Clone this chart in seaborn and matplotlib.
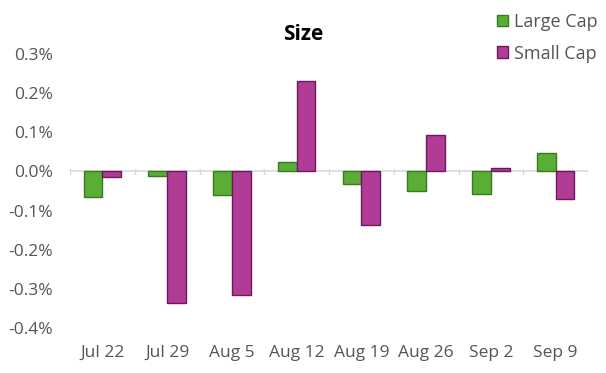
import matplotlib
matplotlib.use("Agg")
import matplotlib.pyplot as plt
import seaborn as sns
import pandas as pd
from matplotlib.ticker import FuncFormatter, FixedLocator
from matplotlib.patches import Patch

dates = ["Jul 22", "Jul 29", "Aug 5", "Aug 12", "Aug 19", "Aug 26", "Sep 2", "Sep 9"]
large_cap = [-0.065, -0.011, -0.060, 0.025, -0.031, -0.049, -0.057, 0.046]
small_cap = [-0.014, -0.336, -0.316, 0.232, -0.136, 0.092, 0.010, -0.070]
series = ["Large Cap", "Small Cap"]
yticks = [-0.4, -0.3, -0.2, -0.1, 0.0, 0.1, 0.2, 0.3]

df = pd.DataFrame({
    "date": dates * 2,
    "value": large_cap + small_cap,
    "series": [series[0]] * len(dates) + [series[1]] * len(dates),
})

sns.set_style("white")
plt.rcParams["font.family"] = ["Open Sans", "DejaVu Sans"]

fills = {"Large Cap": "#5aae35", "Small Cap": "#b03c96"}
edges = {"Large Cap": "#3a7a1c", "Small Cap": "#6b1a5e"}

fig = plt.figure(figsize=(6.06, 3.73), dpi=100)
ax = fig.add_axes([70 / 606, 1 - 328 / 373, 518 / 606, 274 / 373])

sns.barplot(data=df, x="date", y="value", hue="series", hue_order=series,
            order=dates, palette=fills, width=0.58, gap=0, ax=ax,
            legend=False, saturation=1)
for cont, s in zip(ax.containers, series):
    for p in cont:
        p.set_edgecolor(edges[s])
        p.set_linewidth(1.0)

ax.set_ylim(-0.4, 0.3)
ax.set_xlim(-0.5, len(dates) - 0.5)
ax.yaxis.set_major_locator(FixedLocator(yticks))
ax.yaxis.set_major_formatter(FuncFormatter(lambda v, p: f"{v:.1f}%"))
ax.set_xlabel("")
ax.set_ylabel("")
for sp in ax.spines.values():
    sp.set_visible(False)
ax.axhline(0, color="#d9d9d9", lw=1.2, zorder=0)
for b in range(len(dates) + 1):
    ax.plot([b - 0.5, b - 0.5], [-0.006, 0.006], color="#d9d9d9", lw=1.0, zorder=0)

ax.tick_params(axis="y", labelsize=12.5, colors="#555555", length=0, pad=12)
ax.tick_params(axis="x", labelsize=12.5, colors="#555555", length=0, pad=12)

fig.text(303 / 606, 1 - 34 / 373, "Size", ha="center", va="center",
         fontsize=15, fontweight="bold", color="#000000")

handles = [Patch(facecolor=fills[s], edgecolor=edges[s], label=s) for s in series]
fig.legend(handles=handles, loc="upper left", bbox_to_anchor=(497 / 606, 1 - 13 / 373),
           frameon=False, fontsize=13, handlelength=0.6, handleheight=0.6,
           handletextpad=0.35, labelspacing=0.75, labelcolor="#555555",
           borderaxespad=0, borderpad=0)

fig.savefig("out.png", dpi=100)
